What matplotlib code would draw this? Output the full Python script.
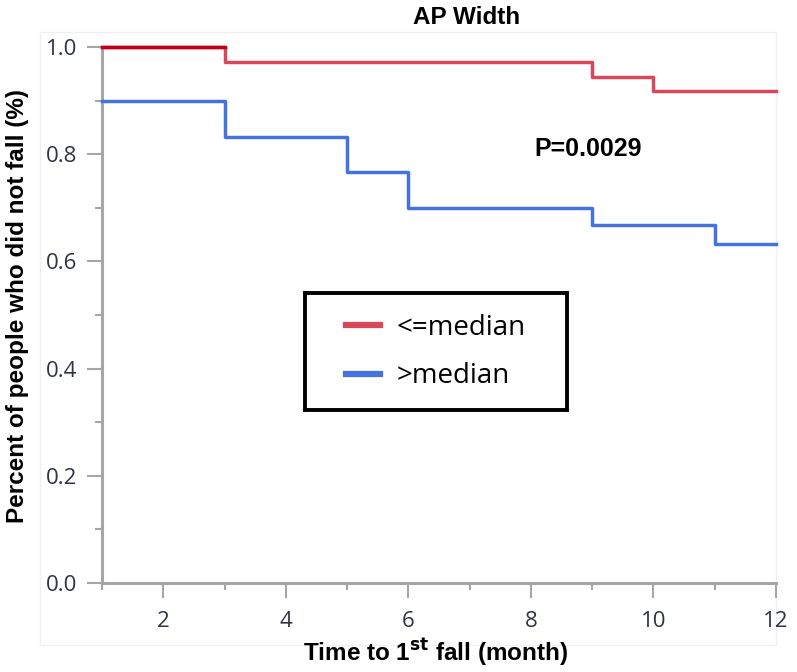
"""
Kaplan-Meier style curve: AP Width, time to first fall
"""
import matplotlib
matplotlib.use('Agg')
import matplotlib.pyplot as plt
from matplotlib.patches import Rectangle
from matplotlib.ticker import MultipleLocator

# step data (month, survival)
low_t = [1, 3, 9, 10, 12]
low_s = [1.0, 0.972, 0.944, 0.917, 0.917]
high_t = [1, 3, 5, 6, 9, 11, 12]
high_s = [0.9, 0.833, 0.767, 0.70, 0.667, 0.633, 0.633]

labels = ['<=median', '>median']
colors = ['#D9485A', '#4473E0']
p_text = 'P=0.0029'

GRAY = '#A6A6A6'
TICK_COL = '#2E3440'

fig = plt.figure(figsize=(7.97, 6.72), dpi=100)
ax = fig.add_axes([102 / 797, 89 / 672, 674 / 797, 536 / 672])

# faint outer frame of the plot region (behind everything)
frame = Rectangle((40 / 797, 27 / 672), 736 / 797, 613 / 672,
                  transform=fig.transFigure, fill=False,
                  edgecolor='#F0F0F0', linewidth=1, zorder=-5)
fig.patches.append(frame)

ax.step(low_t, low_s, where='post', color=colors[0], linewidth=2.5,
        label=labels[0], clip_on=False, zorder=3)
# first segment darker red
ax.plot(low_t[:2], [low_s[0]] * 2, color='#C00018', linewidth=2.5,
        clip_on=False, zorder=4)
ax.step(high_t, high_s, where='post', color=colors[1], linewidth=2.5,
        label=labels[1], clip_on=False, zorder=3)

ax.set_xlim(1, 12)
ax.set_ylim(0, 1.0)
ax.xaxis.set_major_locator(MultipleLocator(2))
ax.xaxis.set_minor_locator(MultipleLocator(1))
ax.yaxis.set_major_locator(MultipleLocator(0.2))
ax.yaxis.set_minor_locator(MultipleLocator(0.1))
ax.yaxis.set_major_formatter(matplotlib.ticker.FormatStrFormatter('%.1f'))
ax.patch.set_alpha(0)

for s in ['top', 'right']:
    ax.spines[s].set_visible(False)
for s in ['left', 'bottom']:
    ax.spines[s].set_color(GRAY)
    ax.spines[s].set_linewidth(2.2)

ax.tick_params(which='major', length=11, width=1.5, color=GRAY,
               labelsize=16, labelcolor=TICK_COL)
ax.tick_params(axis='x', which='major', pad=9)
ax.tick_params(axis='y', which='major', pad=7)
ax.tick_params(which='minor', length=5, width=1.5, color=GRAY)
for lab in ax.get_xticklabels() + ax.get_yticklabels():
    lab.set_family('Open Sans')

# axis labels placed in figure coordinates
fig.text(436 / 797, 1 - 652 / 672, 'Time to 1$^{\\mathbf{st}}$ fall (month)',
         fontsize=17.5, fontweight='bold', family='Liberation Sans',
         ha='center', va='center')
fig.text(18 / 797, 1 - 306 / 672, 'Percent of people who did not fall (%)',
         fontsize=17.5, fontweight='bold', family='Liberation Sans',
         ha='center', va='center', rotation=90)

fig.text(467 / 797, 1 - 17 / 672, 'AP Width', fontsize=17.5, fontweight='bold',
         family='Liberation Sans', ha='center', va='center')

ax.text(8.93, 0.81, p_text, fontsize=18, fontweight='bold',
        family='Liberation Sans', ha='center', va='center')

# legend without its own frame; box drawn separately for exact padding
leg = ax.legend(loc='center', bbox_to_anchor=(436 / 797, 1 - 352 / 672),
                bbox_transform=fig.transFigure, frameon=False,
                handlelength=1.2, handletextpad=0.6, borderpad=0,
                labelspacing=0.75, borderaxespad=0,
                prop={'family': 'Open Sans', 'size': 20})
for line in leg.get_lines():
    line.set_linewidth(4.5)
box = Rectangle((305 / 797, 1 - 410 / 672), 262 / 797, 117 / 672,
                transform=fig.transFigure, facecolor='white',
                edgecolor='black', linewidth=2.8, zorder=4)
fig.patches.append(box)
leg.set_zorder(6)
ax.set_zorder(5)

fig.savefig('out.png', dpi=100, facecolor='white')
